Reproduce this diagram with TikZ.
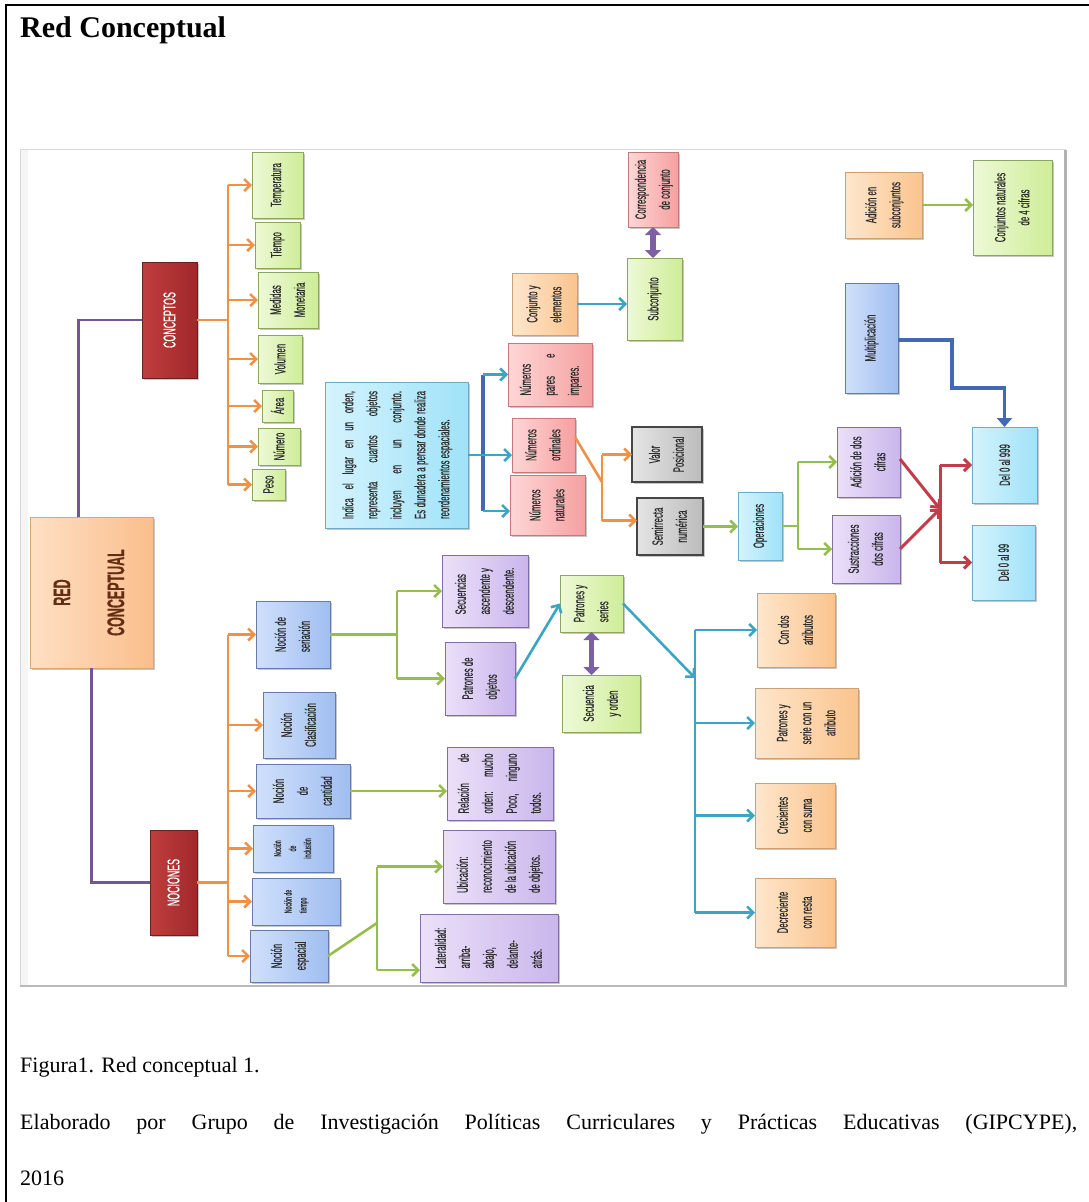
\documentclass[tikz,border=0pt]{standalone}
\usepackage{fontspec}
\setmainfont{Liberation Serif}
\newfontfamily\cf[FakeStretch=0.52,FakeBold=0.4]{Liberation Sans}
\usepackage{graphicx}
\usetikzlibrary{arrows.meta,shadows}
\definecolor{gbl}{RGB}{238,249,214}\definecolor{gbr}{RGB}{206,237,152}\definecolor{gbd}{RGB}{140,165,95}
\definecolor{obl}{RGB}{254,230,204}\definecolor{obr}{RGB}{250,196,142}\definecolor{obd}{RGB}{205,160,115}
\definecolor{kbl}{RGB}{255,214,214}\definecolor{kbr}{RGB}{245,160,160}\definecolor{kbd}{RGB}{200,120,120}
\definecolor{ybl}{RGB}{228,228,228}\definecolor{ybr}{RGB}{188,188,188}\definecolor{ybd}{RGB}{70,70,70}
\definecolor{cbl}{RGB}{212,243,253}\definecolor{cbr}{RGB}{160,226,248}\definecolor{cbd}{RGB}{110,170,195}
\definecolor{bbl}{RGB}{208,224,251}\definecolor{bbr}{RGB}{160,190,240}\definecolor{bbd}{RGB}{100,125,170}
\definecolor{pbl}{RGB}{235,224,249}\definecolor{pbr}{RGB}{202,182,236}\definecolor{pbd}{RGB}{130,110,165}
\definecolor{dbl}{RGB}{192,62,62}\definecolor{dbr}{RGB}{160,40,42}\definecolor{dbd}{RGB}{110,30,30}
\definecolor{rbl}{RGB}{254,224,196}\definecolor{rbr}{RGB}{250,190,140}\definecolor{rbd}{RGB}{215,165,120}
\definecolor{rtx}{RGB}{100,45,20}
\definecolor{txc}{RGB}{45,45,45}
\definecolor{orc}{RGB}{240,145,70}\definecolor{grc}{RGB}{150,190,75}\definecolor{tec}{RGB}{60,165,195}
\definecolor{blc}{RGB}{65,105,180}\definecolor{rdc}{RGB}{195,60,75}\definecolor{puc}{RGB}{115,85,155}
\definecolor{dpc}{RGB}{125,95,165}
\newcommand{\Bx}[7]{\node[#1, minimum width={(#5-#3)*1pt}, minimum height={(#6-#4)*1pt}] (#2) at ({(#3+#5)/2},{(#4+#6)/2}) {\rotatebox{90}{#7}};}
\newcommand{\TabC}[1]{\begin{tabular}{@{}c@{}}#1\end{tabular}}
\newcommand{\TabL}[1]{\begin{tabular}{@{}l@{}}#1\end{tabular}}
\newcommand{\JustL}[2]{\makebox[#1][s]{#2}}
\tikzset{
  boxbase/.style={draw, line width=0.7pt, inner sep=0pt, outer sep=0pt, text=txc,
    font=\cf\fontsize{15}{24}\selectfont,
    drop shadow={shadow xshift=1.6pt, shadow yshift=-1.6pt, opacity=0.22, fill=black}},
  gbox/.style={boxbase, draw=gbd, left color=gbl, right color=gbr},
  obox/.style={boxbase, draw=obd, left color=obl, right color=obr},
  kbox/.style={boxbase, draw=kbd, left color=kbl, right color=kbr},
  ybox/.style={boxbase, draw=ybd, line width=1.2pt, left color=ybl, right color=ybr},
  cbox/.style={boxbase, draw=cbd, left color=cbl, right color=cbr},
  bbox/.style={boxbase, draw=bbd, left color=bbl, right color=bbr},
  pbox/.style={boxbase, draw=pbd, left color=pbl, right color=pbr},
  dbox/.style={boxbase, draw=dbd, left color=dbl, right color=dbr, text=white, font=\cf\fontsize{17}{20}\selectfont},
  rbox/.style={boxbase, draw=rbd, left color=rbl, right color=rbr, text=rtx, font=\cf\bfseries\fontsize{24}{28}\selectfont},
  smalltxt/.style={font=\cf\fontsize{10}{15}\selectfont},
  tip/.style={-{Straight Barb[length=6pt,width=12pt]}},
  orl/.style={draw=orc, line width=2.6pt},
  grl/.style={draw=grc, line width=2.6pt},
  tel/.style={draw=tec, line width=2.6pt},
  bll/.style={draw=blc, line width=3.5pt},
  rdl/.style={draw=rdc, line width=3pt},
  pul/.style={draw=puc, line width=2.6pt},
  dbla/.style={draw=dpc, line width=5.5pt, {Triangle[length=8pt,width=16pt]}-{Triangle[length=8pt,width=16pt]}}
}
\begin{document}
\begin{tikzpicture}[x=1pt,y=-1pt]
\useasboundingbox (0,0) rectangle (1089,1202);
% outer frame
\draw[line width=2.5pt] (6,1210) -- (6,5) -- (1095,5);
% picture frame
\fill[gray!8] (20,149) rectangle (28,986);
\draw[gray!30, line width=0.8pt] (20,149) rectangle (1065,986);
\draw[gray!60, line width=3pt] (1065,150) -- (1065,987);
\draw[gray!55, line width=1.4pt] (20,986) -- (1066,986);
% title and caption
\node[anchor=base west, inner sep=0pt, font=\bfseries\fontsize{30}{36}\selectfont] (title) at (20,37) {Red Conceptual};
\node[anchor=base west, inner sep=0pt, font=\fontsize{22}{26}\selectfont] (cap1) at (20,1072) {Figura1. Red conceptual 1.};
\node[anchor=base west, inner sep=0pt, font=\fontsize{22}{26}\selectfont] (cap2) at (20,1129) {\makebox[1057pt][s]{Elaborado por Grupo de Investigación Políticas Curriculares y Prácticas Educativas (GIPCYPE),}};
\node[anchor=base west, inner sep=0pt, font=\fontsize{22}{26}\selectfont] (cap3) at (20,1185) {2016};

% ---- main nodes
\Bx{rbox}{red}{30}{517}{153}{668}{\TabC{RED\\[26pt]CONCEPTUAL}}
\Bx{dbox}{conc}{142}{262}{197}{378}{CONCEPTOS}
\Bx{dbox}{noc}{150}{830}{197}{935}{NOCIONES}
% conceptos
\Bx{gbox}{temp}{252}{152}{303}{218}{Temperatura}
\Bx{gbox}{tiem}{255}{222}{300}{268}{Tiempo}
\Bx{gbox}{medi}{258}{272}{318}{328}{\TabC{Medidas\\Monetaria}}
\Bx{gbox}{volu}{258}{335}{302}{383}{Volumen}
\Bx{gbox}{area}{262}{390}{293}{422}{Área}
\Bx{gbox}{nume}{258}{428}{300}{465}{Número}
\Bx{gbox}{peso}{252}{469}{285}{500}{Peso}
% nociones
\Bx{bbox}{seri}{256}{601}{330}{668}{\TabL{Noción de\\seriación}}
\Bx{bbox}{clas}{263}{692}{335}{758}{\TabC{Noción\\Clasificación}}
\Bx{bbox}{cant}{256}{764}{350}{818}{\TabC{Noción\\de\\cantidad}}
\Bx{bbox,smalltxt}{incl}{253}{825}{333}{872}{\TabC{Noción\\de\\inclusión}}
\Bx{bbox,smalltxt}{tiedos}{252}{878}{340}{925}{\TabL{Noción de\\tiempo}}
\Bx{bbox}{espa}{250}{930}{328}{982}{\TabC{Noción\\espacial}}
% second level (nociones)
\Bx{pbox}{secu}{442}{555}{528}{627}{\TabL{Secuencias\\ascendente y\\descendente.}}
\Bx{pbox}{pobj}{445}{642}{515}{715}{\TabL{Patrones de\\objetos}}
\Bx{pbox}{rela}{447}{747}{553}{820}{\TabL{\JustL{60pt}{Relación de}\\\JustL{60pt}{orden: mucho}\\\JustL{60pt}{Poco, ninguno}\\todos.}}
\Bx{pbox}{ubic}{443}{830}{555}{903}{\TabL{Ubicación:\\reconocimiento\\de la ubicación\\de objetos.}}
\Bx{pbox}{late}{420}{914}{558}{982}{\TabL{Lateralidad:\\arriba-\\abajo,\\delante-\\atrás.}}
\Bx{gbox}{pys}{560}{575}{623}{632}{\TabL{Patrones y\\series}}
\Bx{gbox}{syo}{562}{675}{640}{732}{\TabC{Secuencia\\y orden}}
\Bx{obox}{cda}{757}{593}{835}{667}{\TabC{Con dos\\atributos}}
\Bx{obox}{pysa}{755}{688}{858}{758}{\TabC{Patrones y\\serie con un\\atributo}}
\Bx{obox}{crec}{755}{783}{835}{848}{\TabC{Crecientes\\con suma}}
\Bx{obox}{decr}{755}{878}{835}{947}{\TabC{Decreciente\\con resta}}
% numbers
\Bx{cbox}{indi}{325}{382}{468}{528}{\TabL{\JustL{128pt}{Indica el lugar en un orden,}\\\JustL{128pt}{representa cuantos objetos}\\\JustL{128pt}{incluyen en un conjunto.}\\\JustL{128pt}{Es dunadera a pensar donde realiza}\\reordenamientos espaciales.}}
\Bx{kbox}{npar}{508}{343}{592}{406}{\TabL{Números\\\JustL{42pt}{pares e}\\impares.}}
\Bx{kbox}{nord}{512}{418}{575}{472}{\TabL{Números\\ordinales}}
\Bx{kbox}{nnat}{510}{475}{585}{535}{\TabL{Números\\naturales}}
\Bx{ybox}{valo}{632}{427}{702}{482}{\TabC{Valor\\Posicional}}
\Bx{ybox}{semi}{637}{498}{703}{555}{\TabC{Semirrecta\\numérica}}
\Bx{cbox}{oper}{738}{492}{782}{560}{Operaciones}
\Bx{pbox}{adi}{837}{427}{900}{497}{\TabC{Adición de dos\\cifras}}
\Bx{pbox}{sus}{832}{515}{900}{583}{\TabC{Sustracciones\\dos cifras}}
\Bx{cbox}{dmil}{972}{427}{1037}{503}{Del 0 al 999}
\Bx{cbox}{dcien}{972}{525}{1035}{600}{Del 0 al 99}
\Bx{bbox}{mult}{845}{283}{898}{393}{Multiplicación}
\Bx{obox}{cye}{512}{273}{577}{335}{\TabL{Conjunto y\\elementos}}
\Bx{gbox}{subc}{627}{258}{682}{340}{Subconjunto}
\Bx{kbox}{corr}{628}{152}{678}{227}{\TabC{Correspondencia\\de conjunto}}
\Bx{obox}{ads}{845}{172}{922}{238}{\TabC{Adición en\\subconjuntos}}
\Bx{gbox}{cnat}{973}{160}{1052}{255}{\TabC{Conjuntos naturales\\de 4 cifras}}

% ---- connectors
\coordinate (ob) at (228,0);
\draw[pul] ([xshift=-13pt]red.north) |- (conc.west);
\draw[pul] (red.south) |- (noc.west);
% conceptos bus
\draw[orl] (conc.east) -- (conc.east -| ob);
\draw[orl] (ob |- temp.west) -- (ob |- peso.west);
\foreach \n in {temp,tiem,medi,volu,area,nume,peso}
  \draw[orl,tip] (ob |- \n.west) -- (\n.west);
% nociones bus
\draw[orl] (noc.east) -- (noc.east -| ob);
\draw[orl] (ob |- seri.west) -- (ob |- espa.west);
\foreach \n in {seri,clas,cant,incl,tiedos,espa}
  \draw[orl,tip] (ob |- \n.west) -- (\n.west);
% seriacion
\coordinate (gs) at (397,0);
\draw[grl] (seri.east) -- (seri.east -| gs);
\draw[grl] (gs |- secu.west) -- (gs |- pobj.west);
\draw[grl,tip] (gs |- secu.west) -- (secu.west);
\draw[grl,tip] (gs |- pobj.west) -- (pobj.west);
% cantidad
\draw[grl,tip] (cant.east) -- (cant.east -| rela.west);
% espacial
\coordinate (ge) at (377,923);
\coordinate (geb) at (377,970);
\draw[grl] (espa.east) -- (ge);
\draw[grl] (ge |- ubic.west) -- (geb);
\draw[grl,tip] (ge |- ubic.west) -- (ubic.west);
\draw[grl,tip] (geb) -- (geb -| late.west);
% patrones
\draw[tel,tip] (pobj.east) -- (pys.west);
\draw[dbla] (pys.south) -- (pys.south |- syo.north);
\coordinate (tb) at (695,678);
\draw[tel,tip] (pys.east) -- (tb);
\draw[tel] (tb |- cda.west) -- (tb |- decr.west);
\foreach \n in {cda,pysa,crec,decr}
  \draw[tel,tip] (tb |- \n.west) -- (\n.west);
% numeros
\coordinate (bb) at (483,0);
\draw[bll] (bb |- npar.west) -- ([yshift=-6pt]bb |- nnat.west);
\draw[tel,tip] (bb |- npar.west) -- (npar.west);
\draw[tel,tip] ([yshift=-6pt]bb |- nnat.west) -- ([yshift=-6pt]nnat.west);
\draw[tel,tip] (indi.east) -- (indi.east -| nord.west);
% conjuntos
\draw[tel,tip] (cye.east) -- (cye.east -| subc.west);
\draw[dbla] (corr.south) -- (corr.south |- subc.north);
\draw[grl,tip] (ads.east) -- (ads.east -| cnat.west);
% ordinales
\coordinate (oo) at (602,482);
\draw[orl] ([yshift=8pt]nord.east) -- (oo);
\draw[orl] (oo |- valo.west) -- ([yshift=6pt]oo |- semi.west);
\draw[orl,tip] (oo |- valo.west) -- (valo.west);
\draw[orl,tip] ([yshift=6pt]oo |- semi.west) -- ([yshift=6pt]semi.west);
% operaciones
\draw[grl,tip] (semi.east) -- (semi.east -| oper.west);
\coordinate (go) at (798,0);
\draw[grl] (oper.east) -- (oper.east -| go);
\draw[grl] (go |- adi.west) -- (go |- sus.west);
\draw[grl,tip] (go |- adi.west) -- (adi.west);
\draw[grl,tip] (go |- sus.west) -- (sus.west);
% red
\coordinate (rj) at (940,509);
\draw[rdl,tip] ([yshift=3pt]adi.east) -- (rj);
\draw[rdl,tip] (sus.east) -- (rj);
\draw[rdl] (rj |- dmil.west) -- (rj |- dcien.west);
\draw[rdl,tip] (rj |- dmil.west) -- (dmil.west);
\draw[rdl,tip] (rj |- dcien.west) -- (dcien.west);
% multiplicacion
\coordinate (mb) at (952,388);
\draw[bll,-{Triangle[length=9pt,width=15pt]}] ([yshift=-2pt]mult.east) -| (mb) -| (dmil.north);
\end{tikzpicture}
\end{document}
